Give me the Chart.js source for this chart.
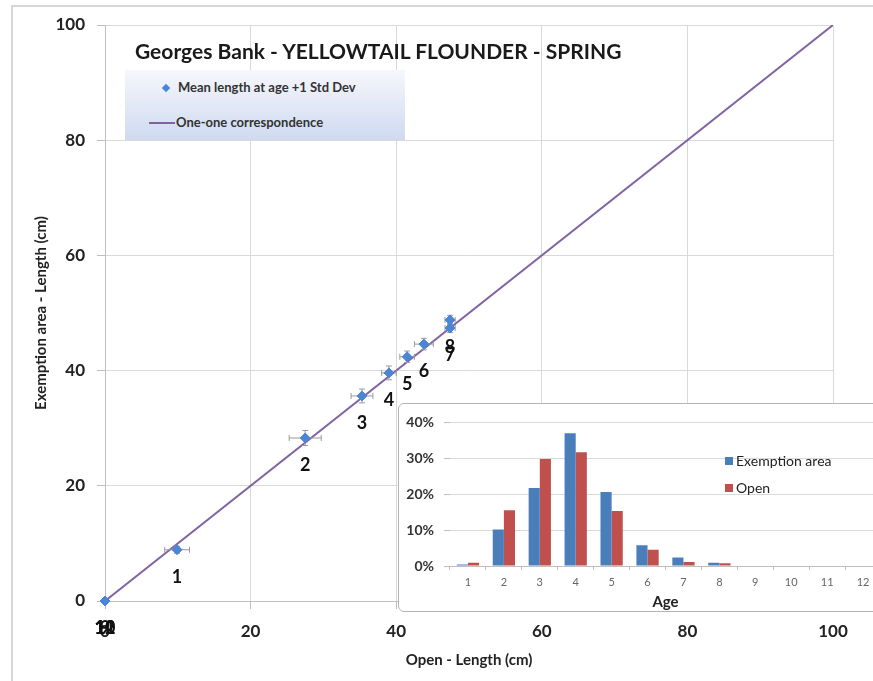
<!DOCTYPE html>
<html lang="en">
<head>
  <meta charset="UTF-8" />
  <title>Georges Bank - Yellowtail Flounder - Spring</title>
  <script src="https://cdn.jsdelivr.net/npm/chart.js"></script>
  <style>
    body {
      margin: 0;
      width: 873px;
      height: 681px;
      overflow: hidden;
      background: #ffffff;
      font-family: Lato, 'DejaVu Sans', sans-serif;
      position: relative;
    }

    .frame {
      position: absolute;
      left: 11px;
      top: 5px;
      width: 900px;
      height: 720px;
      border: 2px solid #d6d6d6;
      box-sizing: border-box;
    }

    #mainWrap {
      position: absolute;
      left: 0;
      top: 0;
      width: 873px;
      height: 681px;
    }

    .title {
      position: absolute;
      left: 135px;
      top: 38px;
      font: bold 21px Lato, sans-serif;
      color: #1a1a1a;
      white-space: nowrap;
    }

    .legend {
      position: absolute;
      left: 125px;
      top: 70px;
      width: 280px;
      height: 70px;
      background: linear-gradient(to bottom, #f6f7fc, #cfdaf0);
      font: bold 13px Lato, sans-serif;
      color: #333;
    }

    .legend .item {
      position: absolute;
      white-space: nowrap;
    }

    .diamond {
      position: absolute;
      width: 6px;
      height: 6px;
      background: #4a86d4;
      transform: rotate(45deg);
    }

    .purple {
      position: absolute;
      width: 26px;
      height: 2px;
      background: #8064a2;
    }

    .inset {
      position: absolute;
      left: 398px;
      top: 403px;
      width: 500px;
      height: 209px;
      border: 1px solid #b5b5b5;
      border-radius: 6px;
      background: #ffffff;
      box-sizing: border-box;
    }

    .inset canvas {
      position: absolute;
      left: 0;
      top: 0;
    }

    .inset .key {
      position: absolute;
      font: 14px Lato, sans-serif;
      color: #222;
      white-space: nowrap;
    }

    .inset .swatch {
      display: inline-block;
      width: 8px;
      height: 8px;
      margin-right: 3px;
      vertical-align: 1px;
    }
  </style>
</head>
<body>

  <div class="frame"></div>

  <div id="mainWrap">
    <canvas id="lengthChart" width="873" height="681"></canvas>
  </div>

  <div class="title">Georges Bank - YELLOWTAIL FLOUNDER - SPRING</div>

  <div class="legend">
    <div class="diamond" style="left: 38px; top: 15px;"></div>
    <div class="item" style="left: 53px; top: 9px;">Mean length at age +1 Std Dev</div>
    <div class="purple" style="left: 24px; top: 52px;"></div>
    <div class="item" style="left: 51px; top: 44px;">One-one correspondence</div>
  </div>

  <div class="inset">
    <canvas id="ageChart" width="498" height="207"></canvas>
    <div class="key" style="left: 326px; top: 48px;"><span class="swatch" style="background:#4a7ebb"></span>Exemption area</div>
    <div class="key" style="left: 326px; top: 75px;"><span class="swatch" style="background:#c0504d"></span>Open</div>
  </div>

  <script>
    // mean length at age (cm), open area vs exemption area
    const ages = ['1', '2', '3', '4', '5', '6', '7', '8', '9', '10', '11', '12'];
    const openLength = [9.9, 27.5, 35.3, 39.0, 41.5, 43.8, 47.4, 47.4, 0, 0, 0, 0];
    const exemptLength = [8.9, 28.3, 35.6, 39.6, 42.4, 44.6, 47.4, 48.8, 0, 0, 0, 0];
    const openSd = [1.7, 2.2, 1.5, 1.0, 1.0, 1.3, 0.7, 0.7, 0, 0, 0, 0];
    const exemptSd = [0.6, 1.3, 1.2, 1.2, 1.0, 1.0, 0.8, 0.8, 0, 0, 0, 0];
    const oneOne = [0, 100];

    // proportion at age (%)
    const exemptShare = [0.4, 10.2, 21.7, 37.0, 20.6, 5.8, 2.4, 0.9, 0, 0, 0, 0];
    const openShare = [0.9, 15.5, 29.8, 31.7, 15.3, 4.5, 1.1, 0.8, 0, 0, 0, 0];

    const blue = '#4a86d4';
    const purple = '#8064a2';
    const gridGrey = '#d9d9d9';

    // error bars sit under the markers but over the 1:1 line
    const errorBars = {
      id: 'errorBars',
      beforeDatasetDraw(chart, args) {
        if (args.index !== 0) return;
        const { ctx, scales: { x, y } } = chart;
        ctx.save();
        ctx.strokeStyle = '#9a9a9a';
        ctx.lineWidth = 1;
        ages.forEach((a, i) => {
          const cx = x.getPixelForValue(openLength[i]);
          const cy = y.getPixelForValue(exemptLength[i]);
          const x0 = x.getPixelForValue(openLength[i] - openSd[i]);
          const x1 = x.getPixelForValue(openLength[i] + openSd[i]);
          const y0 = y.getPixelForValue(exemptLength[i] - exemptSd[i]);
          const y1 = y.getPixelForValue(exemptLength[i] + exemptSd[i]);
          ctx.beginPath();
          ctx.moveTo(x0, cy); ctx.lineTo(x1, cy);
          ctx.moveTo(x0, cy - 3); ctx.lineTo(x0, cy + 3);
          ctx.moveTo(x1, cy - 3); ctx.lineTo(x1, cy + 3);
          ctx.moveTo(cx, y0); ctx.lineTo(cx, y1);
          ctx.moveTo(cx - 3, y0); ctx.lineTo(cx + 3, y0);
          ctx.moveTo(cx - 3, y1); ctx.lineTo(cx + 3, y1);
          ctx.stroke();
        });
        ctx.restore();
      }
    };

    // age number under each point
    const ageLabels = {
      id: 'ageLabels',
      afterDatasetsDraw(chart) {
        const { ctx, scales: { x, y } } = chart;
        ctx.save();
        ctx.font = 'bold 18px Lato, sans-serif';
        ctx.fillStyle = '#111';
        ctx.textAlign = 'center';
        ctx.textBaseline = 'middle';
        ages.forEach((a, i) => {
          ctx.fillText(a, x.getPixelForValue(openLength[i]), y.getPixelForValue(exemptLength[i]) + 27);
        });
        ctx.restore();
      }
    };

    new Chart(document.getElementById('lengthChart'), {
      type: 'scatter',
      data: {
        datasets: [
          {
            label: 'Mean length at age +1 Std Dev',
            data: ages.map((a, i) => ({ x: openLength[i], y: exemptLength[i] })),
            pointStyle: 'rectRot',
            pointRadius: 5,
            backgroundColor: blue,
            borderColor: blue,
            clip: false,
            order: 1
          },
          {
            type: 'line',
            label: 'One-one correspondence',
            data: oneOne.map(v => ({ x: v, y: v })),
            borderColor: purple,
            borderWidth: 2,
            pointRadius: 0,
            order: 2
          }
        ]
      },
      options: {
        responsive: false,
        animation: false,
        layout: { padding: { left: 28, right: 40, top: 25, bottom: 0 } },
        plugins: { legend: { display: false }, tooltip: { enabled: false } },
        scales: {
          x: {
            type: 'linear',
            min: 0,
            max: 100,
            afterFit: s => { s.height = 80; },
            ticks: { stepSize: 20, padding: 12, color: '#222', font: { family: 'Lato', size: 17, weight: 'bold' } },
            grid: { color: gridGrey, tickLength: 8, tickColor: '#bfbfbf' },
            border: { color: '#bfbfbf' },
            title: {
              display: true,
              text: 'Open - Length (cm)',
              color: '#222',
              padding: { top: 4, bottom: 12 },
              font: { family: 'Lato', size: 15, weight: 'bold' }
            }
          },
          y: {
            min: 0,
            max: 100,
            afterFit: s => { s.width = 77; },
            ticks: { stepSize: 20, padding: 12, color: '#222', font: { family: 'Lato', size: 17, weight: 'bold' } },
            grid: { color: gridGrey, tickLength: 8, tickColor: '#bfbfbf' },
            border: { color: '#bfbfbf' },
            title: {
              display: true,
              text: 'Exemption area - Length (cm)',
              color: '#222',
              padding: { top: 4, bottom: 0 },
              font: { family: 'Lato', size: 15, weight: 'bold' }
            }
          }
        }
      },
      plugins: [errorBars, ageLabels]
    });

    new Chart(document.getElementById('ageChart'), {
      type: 'bar',
      data: {
        labels: ages,
        datasets: [
          { label: 'Exemption area', data: exemptShare, backgroundColor: '#4a7ebb' },
          { label: 'Open', data: openShare, backgroundColor: '#c0504d' }
        ]
      },
      options: {
        responsive: false,
        animation: false,
        layout: { padding: { left: 0, right: 16, top: 14, bottom: 0 } },
        plugins: { legend: { display: false }, tooltip: { enabled: false } },
        datasets: { bar: { categoryPercentage: 0.62, barPercentage: 1 } },
        scales: {
          x: {
            afterFit: s => { s.height = 45; },
            ticks: { padding: 6, color: '#666', font: { family: 'Lato', size: 11 } },
            grid: { offset: true, drawOnChartArea: false, tickLength: 4, tickColor: '#bfbfbf' },
            border: { color: '#bfbfbf' },
            title: {
              display: true,
              text: 'Age',
              color: '#222',
              padding: { top: 2, bottom: 0 },
              font: { family: 'Lato', size: 15, weight: 'bold' }
            }
          },
          y: {
            min: 0,
            max: 40,
            afterFit: s => { s.width = 51; },
            ticks: { stepSize: 10, padding: 10, color: '#333', callback: v => v + '%', font: { family: 'Lato', size: 14, weight: 'bold' } },
            grid: { color: gridGrey, tickLength: 6, tickColor: '#bfbfbf' },
            border: { display: false }
          }
        }
      }
    });
  </script>

</body>
</html>
